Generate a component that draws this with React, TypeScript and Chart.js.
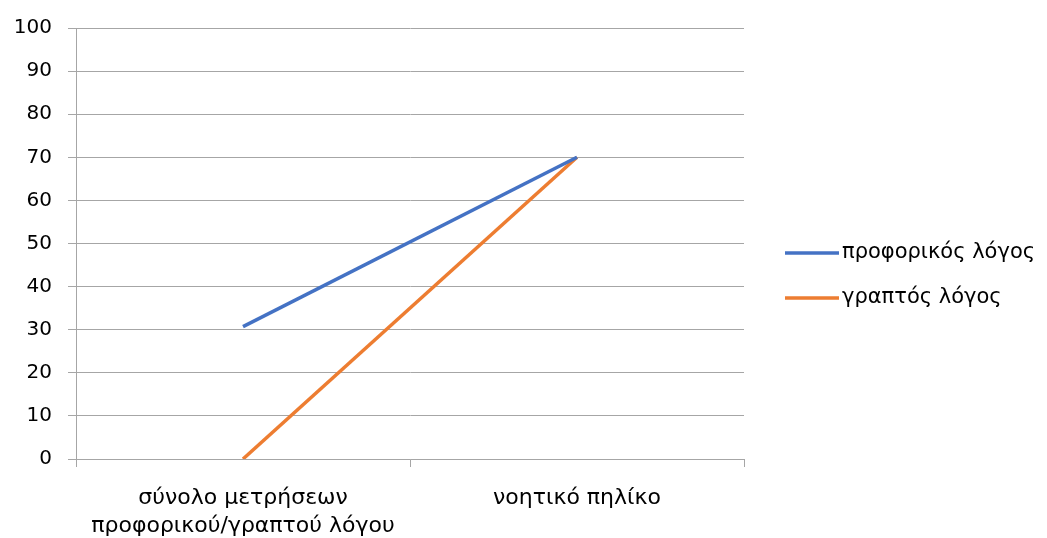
import React, { useEffect, useRef } from "react";
import { Chart, registerables } from "chart.js";

Chart.register(...registerables);

const categories: (string | string[])[] = [
  ["σύνολο μετρήσεων", "προφορικού/γραπτού λόγου"],
  "νοητικό πηλίκο",
];
const seriesNames = ["προφορικός λόγος", "γραπτός λόγος"];
const oralValues = [30.7, 70];
const writtenValues = [0, 70];
const seriesColors = ["#4472C4", "#ED7D31"];
const yMin = 0;
const yMax = 100;
const yStep = 10;

const FONT = "'DejaVu Sans', sans-serif";

const legendPlugin = {
  id: "customLegend",
  afterDraw(chart: any) {
    const ctx = chart.ctx;
    ctx.save();
    chart.data.datasets.forEach((ds: any, i: number) => {
      const y = 253 + i * 45;
      ctx.strokeStyle = ds.borderColor;
      ctx.lineWidth = 3.5;
      ctx.beginPath();
      ctx.moveTo(785, y);
      ctx.lineTo(839, y);
      ctx.stroke();
      ctx.fillStyle = "#000";
      ctx.font = `21px ${FONT}`;
      ctx.textBaseline = "middle";
      ctx.textAlign = "left";
      ctx.fillText(ds.label, 842, y);
    });
    ctx.restore();
  },
};

export default function App() {
  const ref = useRef<HTMLCanvasElement>(null);
  useEffect(() => {
    if (!ref.current) return;
    const chart = new Chart(ref.current, {
      type: "line",
      data: {
        labels: categories,
        datasets: [
          {
            label: seriesNames[0],
            data: oralValues,
            borderColor: seriesColors[0],
            backgroundColor: seriesColors[0],
            borderWidth: 3.5,
            pointRadius: 0,
            tension: 0,
          },
          {
            label: seriesNames[1],
            data: writtenValues,
            borderColor: seriesColors[1],
            backgroundColor: seriesColors[1],
            borderWidth: 3.5,
            pointRadius: 0,
            tension: 0,
          },
        ],
      },
      options: {
        animation: false,
        responsive: true,
        maintainAspectRatio: false,
        layout: { padding: { top: 27, right: 303, left: 0, bottom: 0 } },
        plugins: { legend: { display: false }, tooltip: { enabled: false } },
        scales: {
          x: {
            offset: true,
            grid: {
              offset: true,
              drawOnChartArea: false,
              drawTicks: true,
              tickLength: 8,
              color: "#A6A6A6",
            },
            border: { display: true, color: "#A6A6A6" },
            ticks: {
              color: "#000",
              font: { family: FONT, size: 22, lineHeight: 1.28 },
              padding: 17,
              maxRotation: 0,
            },
            afterFit(scale: any) {
              scale.height = 538 - 459;
            },
          },
          y: {
            min: yMin,
            max: yMax,
            grid: { color: "#A6A6A6", tickLength: 8, drawTicks: true },
            border: { display: true, color: "#A6A6A6" },
            ticks: {
              stepSize: yStep,
              color: "#000",
              font: { family: FONT, size: 20 },
              padding: 16,
            },
            afterFit(scale: any) {
              scale.width = 76;
            },
          },
        },
      },
      plugins: [legendPlugin],
    });
    return () => chart.destroy();
  }, []);
  return (
    <div style={{ position: "fixed", left: 0, top: 0, width: 1047, height: 538, background: "#fff" }}>
      <canvas ref={ref} />
    </div>
  );
}
